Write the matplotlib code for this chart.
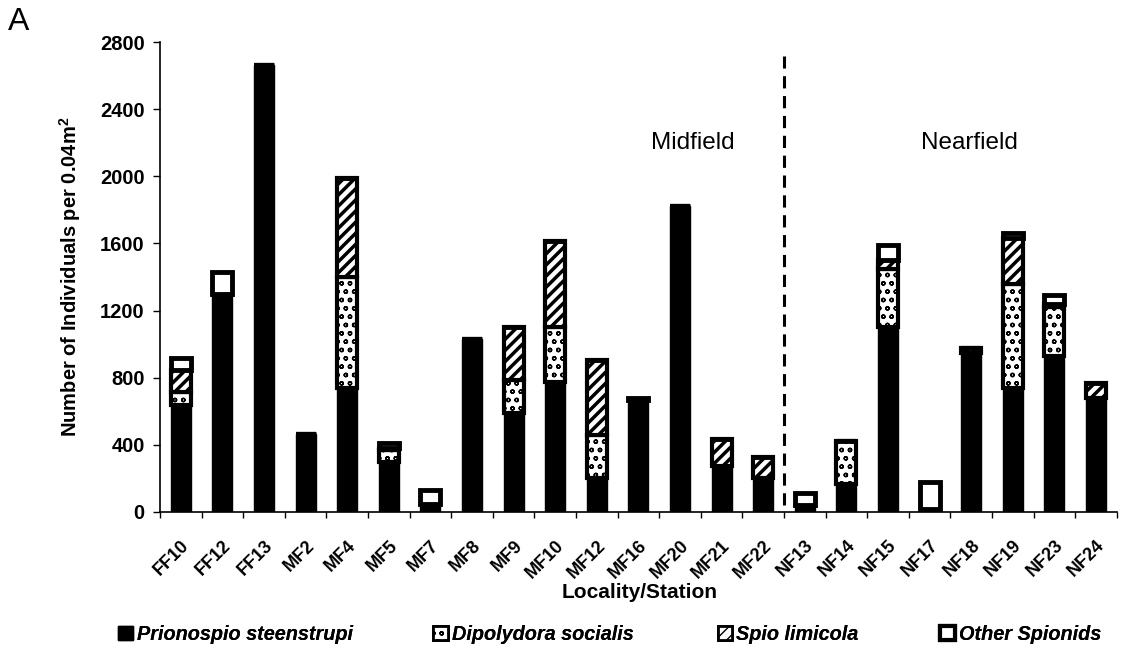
import numpy as np
import matplotlib.pyplot as plt
from matplotlib.patches import Patch

plt.rcParams['font.family'] = ['Liberation Sans', 'DejaVu Sans']
plt.rcParams['mathtext.fontset'] = 'custom'
plt.rcParams['mathtext.rm'] = 'Liberation Sans:bold'
plt.rcParams['mathtext.it'] = 'Liberation Sans:bold'
plt.rcParams['mathtext.bf'] = 'Liberation Sans:bold'

# values (individuals per 0.04 m2)
stations = ['FF10', 'FF12', 'FF13', 'MF2', 'MF4', 'MF5', 'MF7', 'MF8', 'MF9', 'MF10',
            'MF12', 'MF16', 'MF20', 'MF21', 'MF22', 'NF13', 'NF14', 'NF15', 'NF17',
            'NF18', 'NF19', 'NF23', 'NF24']
prionospio = [640, 1300, 2665, 465, 740, 300, 50, 1030, 590, 775, 200, 670, 1825,
              275, 200, 40, 165, 1100, 15, 950, 740, 930, 680]
dipolydora = [75, 0, 0, 0, 660, 70, 0, 0, 195, 325, 260, 0, 0,
              0, 0, 0, 255, 350, 0, 25, 620, 290, 0]
spio = [130, 0, 0, 0, 590, 10, 0, 0, 320, 515, 445, 0, 0,
        160, 130, 0, 0, 50, 0, 0, 270, 20, 90]
other = [70, 130, 0, 0, 0, 30, 80, 0, 0, 0, 0, 10, 0,
         0, 0, 75, 0, 90, 165, 0, 35, 50, 0]
yticks = [0, 400, 800, 1200, 1600, 2000, 2400, 2800]

fig = plt.figure(figsize=(11.23, 6.58), dpi=100)
ax = fig.add_axes([0.1425, 0.222, 0.852, 0.714])

x = np.arange(len(stations))
w = 0.48
p = np.array(prionospio)
d = np.array(dipolydora)
s = np.array(spio)
o = np.array(other)

ax.bar(x, p, w, color='black', edgecolor='black', linewidth=1)
with plt.rc_context({'hatch.linewidth': 1.0}):
    ax.bar(x, d, w, bottom=p, color='white', edgecolor='black', linewidth=3, hatch='oo')
with plt.rc_context({'hatch.linewidth': 2.5}):
    ax.bar(x, s, w, bottom=p + d, color='white', edgecolor='black', linewidth=3, hatch='///')
ax.bar(x, o, w, bottom=p + d + s, color='white', edgecolor='black', linewidth=3.5)

# divider between midfield and nearfield stations
ax.plot([14.5, 14.5], [40, 2720], color='black', linestyle=(0, (4, 2.5)), linewidth=2.2)
ax.text(12.3, 2200, 'Midfield', fontsize=17.5, ha='center', va='center')
ax.text(18.95, 2200, 'Nearfield', fontsize=17.5, ha='center', va='center')

ax.set_xlim(-0.5, 22.5)
ax.set_ylim(0, 2800)
ax.set_yticks(yticks)
ax.set_yticklabels([str(v) for v in yticks], fontsize=14.5, fontweight='bold')
ax.set_xticks(x)
ax.set_xticklabels(stations, rotation=45, ha='right', rotation_mode='anchor',
                   fontsize=13, fontweight='bold')
ax.set_xticks(np.arange(-0.5, 23, 1), minor=True)
ax.tick_params(axis='x', which='major', length=0, pad=18)
ax.tick_params(axis='x', which='minor', length=4, width=1)
ax.tick_params(axis='y', length=5, width=1, pad=6)
for sp in ['top', 'right']:
    ax.spines[sp].set_visible(False)
ax.spines['left'].set_linewidth(1.2)
ax.spines['bottom'].set_linewidth(1.2)

ax.set_ylabel('Number of Individuals per 0.04m$^2$', fontsize=14.5, fontweight='bold', labelpad=12)
fig.text(0.57, 0.1, 'Locality/Station', fontsize=15, fontweight='bold', ha='center', va='center')
fig.text(0.007, 0.99, 'A', fontsize=23, va='top')

handles = [Patch(facecolor='black', edgecolor='black', label='Prionospio steenstrupi'),
           Patch(facecolor='white', edgecolor='black', hatch='oo', linewidth=2, label='Dipolydora socialis'),
           Patch(facecolor='white', edgecolor='black', hatch='///', linewidth=2, label='Spio limicola'),
           Patch(facecolor='white', edgecolor='black', linewidth=3, label='Other Spionids')]
leg_x = [0.105, 0.386, 0.639, 0.837]
for h, lx in zip(handles, leg_x):
    lg = fig.legend(handles=[h], loc='center left', bbox_to_anchor=(lx, 0.036),
                    frameon=False, handlelength=0.75, handleheight=0.75,
                    handletextpad=0.2, borderpad=0, borderaxespad=0,
                    prop={'size': 14.3, 'style': 'italic', 'weight': 'bold'})
    fig.add_artist(lg)

fig.savefig('out.png', dpi=100)
